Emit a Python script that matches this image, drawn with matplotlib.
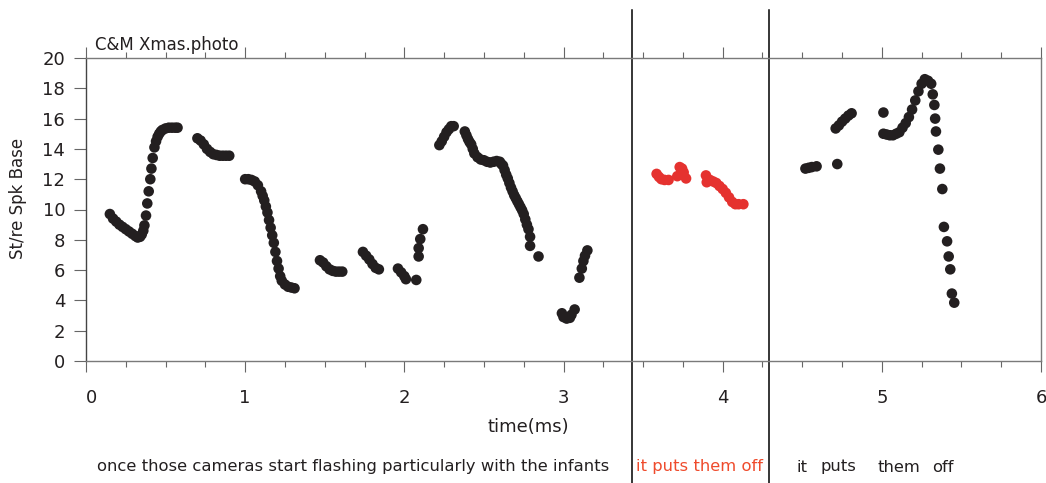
import matplotlib
matplotlib.use("Agg")
import matplotlib.pyplot as plt
from matplotlib.ticker import MultipleLocator

# black dots (time in ms, St/re Spk Base)
seg_x = [
    [0.15, 0.17, 0.19, 0.21, 0.23, 0.25, 0.27, 0.29, 0.31, 0.325, 0.34, 0.35, 0.36, 0.367,
     0.377, 0.385, 0.394, 0.404, 0.411, 0.419, 0.43, 0.44, 0.45, 0.46, 0.47, 0.48, 0.50,
     0.52, 0.54, 0.56, 0.575],
    [0.70, 0.72, 0.74, 0.76, 0.78, 0.80, 0.82, 0.84, 0.86, 0.88, 0.90],
    [1.00, 1.02, 1.04, 1.06, 1.08, 1.10, 1.11, 1.12, 1.13, 1.14, 1.15, 1.16, 1.17, 1.18,
     1.19, 1.20, 1.21, 1.22, 1.23, 1.25, 1.27, 1.29, 1.31],
    [1.47, 1.49, 1.51, 1.53, 1.55, 1.57, 1.59, 1.61],
    [1.74, 1.76, 1.78, 1.80, 1.82, 1.84],
    [1.96, 1.98, 2.00, 2.01, 2.075],
    [2.09, 2.09, 2.10, 2.117],
    [2.22, 2.235, 2.25, 2.265, 2.28, 2.295, 2.31],
    [2.38, 2.39, 2.40, 2.41, 2.42, 2.43, 2.44, 2.46, 2.48, 2.50, 2.52, 2.54, 2.56, 2.58,
     2.60, 2.61, 2.62, 2.63, 2.64, 2.65, 2.66, 2.67, 2.68, 2.69, 2.70, 2.71, 2.72, 2.73,
     2.74, 2.75, 2.76, 2.77, 2.78, 2.79, 2.79, 2.843],
    [2.99, 3.00, 3.02, 3.04, 3.05, 3.07],
    [3.10, 3.115, 3.125, 3.135, 3.15],
    [4.52, 4.54, 4.56, 4.59, 4.72],
    [4.71, 4.73, 4.75, 4.77, 4.79, 4.81],
    [5.01],
    [5.01, 5.03, 5.05, 5.07, 5.09, 5.11, 5.13, 5.15, 5.17, 5.19, 5.21, 5.23, 5.25, 5.27,
     5.29, 5.31, 5.32, 5.33, 5.335, 5.34, 5.355, 5.365, 5.38, 5.39, 5.41, 5.42, 5.43,
     5.44, 5.455],
]
seg_y = [
    [9.7, 9.4, 9.2, 9.0, 8.85, 8.7, 8.55, 8.4, 8.25, 8.15, 8.2, 8.35, 8.6, 8.95,
     9.6, 10.4, 11.2, 12.0, 12.7, 13.4, 14.1, 14.5, 14.8, 15.0, 15.15, 15.25, 15.35,
     15.4, 15.4, 15.4, 15.4],
    [14.7, 14.55, 14.3, 14.0, 13.8, 13.65, 13.6, 13.55, 13.55, 13.55, 13.55],
    [12.0, 12.0, 11.95, 11.85, 11.6, 11.2, 10.9, 10.6, 10.2, 9.8, 9.3, 8.8, 8.3, 7.8,
     7.2, 6.6, 6.1, 5.6, 5.3, 5.05, 4.9, 4.85, 4.8],
    [6.65, 6.5, 6.25, 6.05, 5.95, 5.9, 5.9, 5.9],
    [7.2, 6.95, 6.7, 6.4, 6.15, 6.05],
    [6.1, 5.85, 5.6, 5.4, 5.35],
    [6.9, 7.45, 8.05, 8.7],
    [14.25, 14.5, 14.8, 15.1, 15.3, 15.5, 15.5],
    [15.15, 14.9, 14.65, 14.45, 14.3, 14.0, 13.7, 13.45, 13.3, 13.25, 13.15, 13.1, 13.15,
     13.2, 13.15, 13.0, 12.9, 12.6, 12.3, 12.05, 11.75, 11.45, 11.2, 10.95, 10.75, 10.55,
     10.35, 10.15, 9.95, 9.7, 9.35, 9.0, 8.7, 8.2, 7.6, 6.9],
    [3.15, 2.9, 2.8, 2.85, 3.05, 3.4],
    [5.5, 6.1, 6.6, 6.95, 7.3],
    [12.7, 12.75, 12.8, 12.85, 13.0],
    [15.35, 15.55, 15.8, 16.0, 16.2, 16.35],
    [16.4],
    [15.0, 14.95, 14.9, 14.9, 15.0, 15.1, 15.4, 15.7, 16.1, 16.6, 17.2, 17.8, 18.3, 18.6,
     18.5, 18.3, 17.6, 16.9, 16.0, 15.15, 13.95, 12.7, 11.35, 8.85, 7.9, 6.9, 6.05,
     4.45, 3.85],
]

# red dots (the "it puts them off" stretch)
red_x = [3.585, 3.60, 3.615, 3.635, 3.66,
         3.715, 3.73, 3.745, 3.755, 3.77,
         3.895, 3.90, 3.92, 3.94, 3.96, 3.98, 4.00, 4.02, 4.04, 4.06, 4.08, 4.10, 4.13]
red_y = [12.35, 12.15, 12.0, 11.95, 11.95,
         12.2, 12.8, 12.7, 12.45, 12.05,
         12.25, 11.8, 11.95, 11.85, 11.75, 11.55, 11.35, 11.1, 10.8, 10.5, 10.35, 10.35, 10.35]

boundaries = [3.433, 4.288]
x_ticks = [0, 1, 2, 3, 4, 5, 6]
y_ticks = [0, 2, 4, 6, 8, 10, 12, 14, 16, 18, 20]

DARK = '#231f20'
RED = '#e5322f'
RED_TXT = '#ef4b2c'

fig = plt.figure(figsize=(10.46, 4.83), dpi=100)
ax = fig.add_axes([86 / 1046, 1 - 361 / 483, 955 / 1046, 303 / 483])

for xs, ys in zip(seg_x, seg_y):
    ax.scatter(xs, ys, s=58, color=DARK, edgecolors='none', zorder=3)
ax.scatter(red_x, red_y, s=58, color=RED, edgecolors='none', zorder=3)

for b in boundaries:
    ax.axvline(b, ymin=-0.403, ymax=1.158, color='black', lw=1.1, clip_on=False)

ax.set_xlim(0, 6)
ax.set_ylim(0, 20)
ax.set_xticks(x_ticks)
ax.set_yticks(y_ticks)
ax.xaxis.set_minor_locator(MultipleLocator(0.25))
ax.tick_params(axis='x', which='major', direction='out', length=8, width=0.8,
               color='#666666', pad=12, labelsize=13, labelcolor=DARK,
               top=True, labeltop=False)
ax.tick_params(axis='x', which='minor', direction='out', length=4, width=0.8,
               color='#666666', top=True)
ax.tick_params(axis='x', which='major', top=True)
ax.tick_params(axis='y', direction='out', length=9, width=0.8, color='#666666',
               pad=6, labelsize=13, labelcolor=DARK)
ax.get_xticklabels()[0].set_horizontalalignment('left')

for side in ['bottom', 'top', 'right']:
    ax.spines[side].set_color('#7a7a7a')
    ax.spines[side].set_linewidth(1.0)
ax.spines['left'].set_color('#444444')
ax.spines['left'].set_linewidth(1.0)

fig.text(95 / 1046, 1 - 50 / 483, 'C&M Xmas.photo', fontsize=12, color=DARK,
         va='baseline', ha='left')
fig.text(18 / 1046, 1 - 198 / 483, 'St/re Spk Base', fontsize=12, color=DARK,
         rotation=90, va='center', ha='center')
fig.text(528 / 1046, 1 - 427 / 483, 'time(ms)', fontsize=13, color=DARK,
         va='center', ha='center')

fig.text(97 / 1046, 1 - 467 / 483,
         'once those cameras start flashing particularly with the infants',
         fontsize=11.8, color=DARK, va='center', ha='left')
fig.text(636 / 1046, 1 - 467 / 483, 'it puts them off', fontsize=11.8,
         color=RED_TXT, va='center', ha='left')
for word, px in zip(['it', 'puts', 'them', 'off'], [797, 820, 878, 932]):
    fig.text(px / 1046, 1 - 467 / 483, word, fontsize=11.8, color=DARK,
             va='center', ha='left')

fig.savefig('out.png', dpi=100)
